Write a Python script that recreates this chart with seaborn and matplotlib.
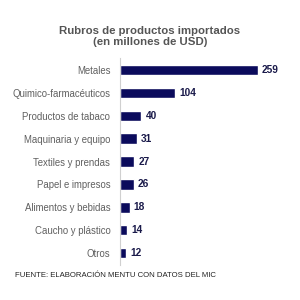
import matplotlib
matplotlib.use("Agg")
import matplotlib.pyplot as plt
import seaborn as sns
import pandas as pd

categories = ["Metales", "Quimico-farmacéuticos", "Productos de tabaco", "Maquinaria y equipo",
              "Textiles y prendas", "Papel e impresos", "Alimentos y bebidas", "Caucho y plástico", "Otros"]
values = [259, 104, 40, 31, 27, 26, 18, 14, 12]

sns.set_style("white")
plt.rcParams['font.family'] = ['Liberation Sans', 'DejaVu Sans']

df = pd.DataFrame({"cat": categories, "val": values})
fig = plt.figure(figsize=(3, 3), dpi=100)
ax = fig.add_axes([0.40, 0.118, 0.55, 0.687])
sns.barplot(data=df, x="val", y="cat", color="#0b0b5c", width=0.45, ax=ax, saturation=1)
ax.set_xlim(0, 310)
ax.set_xlabel("")
ax.set_ylabel("")
ax.set_xticks([])
for s in ["top", "right", "bottom"]:
    ax.spines[s].set_visible(False)
ax.spines["left"].set_color("#d0d0d0")
ax.spines["left"].set_linewidth(0.8)
ax.tick_params(axis="y", length=0, labelsize=6.9, labelcolor="#606060", pad=7)
for i, v in enumerate(values):
    ax.text(v + 8, i, str(v), va="center", ha="left", fontsize=7.3, fontweight="bold", color="#1a1a4a")

fig.text(0.5, 0.878, "Rubros de productos importados\n(en millones de USD)", ha="center", va="center",
         fontsize=8.2, fontweight="bold", color="#555555", linespacing=1.1)
fig.text(0.05, 0.083, "FUENTE: ELABORACIÓN MENTU CON DATOS DEL MIC", ha="left", va="center",
         fontsize=5.6, color="#222222")
fig.savefig("out.png", dpi=100, facecolor="white")
